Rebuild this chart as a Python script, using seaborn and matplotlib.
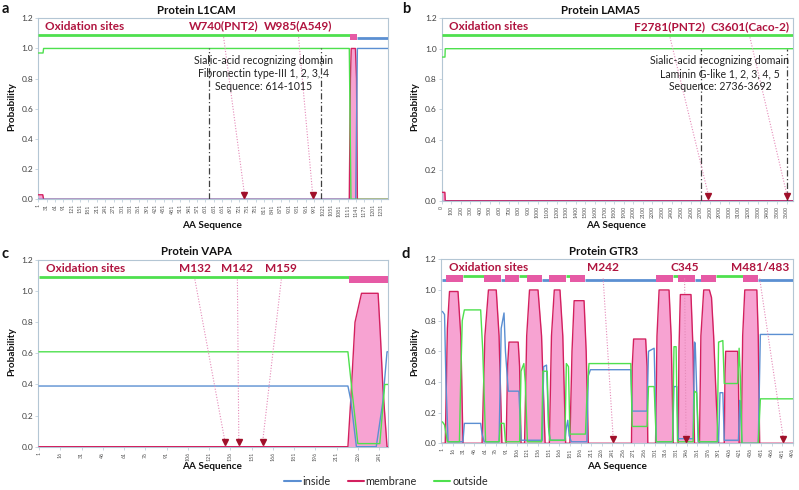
import numpy as np
import pandas as pd
import matplotlib
matplotlib.use("Agg")
import matplotlib.pyplot as plt
import seaborn as sns
from matplotlib.lines import Line2D
from matplotlib.patches import Rectangle

sns.set_theme(style="white")
plt.rcParams['font.family'] = ['Lato', 'DejaVu Sans']

# ---------------- data ----------------
# Panel a: L1CAM
l1cam_inside_x = [1, 1140, 1146, 1257]
l1cam_inside_y = [0.0, 0.0, 1.0, 1.0]
l1cam_membrane_x = [1, 17, 20, 1117, 1121, 1124, 1139, 1143, 1146, 1257]
l1cam_membrane_y = [0.03, 0.03, 0.0, 0.0, 0.8, 1.0, 1.0, 0.8, 0.0, 0.0]
l1cam_outside_x = [1, 18, 20, 1117, 1123, 1257]
l1cam_outside_y = [0.97, 0.97, 1.0, 1.0, 0.0, 0.0]
l1cam_topo_start = [1, 1120, 1144]
l1cam_topo_end = [1120, 1144, 1257]
l1cam_topo_state = ["outside", "membrane", "inside"]
l1cam_sites = [740, 985]
l1cam_site_labels = ["W740(PNT2)", "W985(A549)"]
l1cam_label_x = [666, 935]
l1cam_domain = [614, 1015]
l1cam_domain_text = ["Sialic-acid recognizing domain", "Fibronectin type-III 1, 2, 3, 4", "Sequence: 614-1015"]
l1cam_domain_text_x = 809
l1cam_ticks = list(range(1, 1232, 30))

# Panel b: LAMA5
lama5_inside_x = [0, 3695]
lama5_inside_y = [0.0, 0.0]
lama5_membrane_x = [0, 33, 37, 3695]
lama5_membrane_y = [0.055, 0.055, 0.0, 0.0]
lama5_outside_x = [0, 34, 37, 3695]
lama5_outside_y = [0.945, 0.945, 1.0, 1.0]
lama5_topo_start = [0]
lama5_topo_end = [3695]
lama5_topo_state = ["outside"]
lama5_sites = [2781, 3601]
lama5_site_labels = ["F2781(PNT2)", "C3601(Caco-2)"]
lama5_label_x = [2383, 3217]
lama5_domain = [2706, 3607]
lama5_domain_text = ["Sialic-acid recognizing domain", "Laminin G-like 1, 2, 3, 4, 5", "Sequence: 2736-3692"]
lama5_domain_text_x = 2904
lama5_ticks = list(range(0, 3601, 100))

# Panel c: VAPA
vapa_inside_x = [1, 219, 221, 225, 239, 243.5, 246.6, 249]
vapa_inside_y = [0.39, 0.39, 0.30, 0.0, 0.0, 0.28, 0.61, 0.61]
vapa_membrane_x = [1, 219, 221, 224, 228.6, 240.3, 242, 243.7, 246.6, 249]
vapa_membrane_y = [0.0, 0.0, 0.3, 0.80, 0.986, 0.986, 0.70, 0.375, 0.0, 0.0]
vapa_outside_x = [1, 219, 222, 226, 241.5, 245, 249]
vapa_outside_y = [0.61, 0.61, 0.35, 0.02, 0.02, 0.40, 0.40]
vapa_topo_start = [1, 220]
vapa_topo_end = [220, 249]
vapa_topo_state = ["outside", "membrane"]
vapa_sites = [132, 142, 159]
vapa_site_labels = ["M132", "M142", "M159"]
vapa_label_x = [111, 141, 172]
vapa_ticks = list(range(1, 242, 15))

# Panel d: GTR3
gtr3_inside_x = [1, 4, 6, 9, 30, 32, 55, 57, 60, 81, 84, 88, 90, 94, 109, 112, 142, 144, 148, 151,
                 153, 174, 176, 178, 180, 183, 205, 207, 210, 267, 269, 290, 292, 300, 303, 326, 328,
                 332, 334, 355, 357, 358, 360, 362, 391, 393, 397, 399, 419, 421, 422, 424, 447, 450, 496]
gtr3_inside_y = [0.86, 0.84, 0.40, 0.01, 0.01, 0.13, 0.13, 0.06, 0.01, 0.01, 0.75, 0.85, 0.60, 0.34,
                 0.34, 0.02, 0.02, 0.50, 0.51, 0.10, 0.02, 0.02, 0.10, 0.15, 0.05, 0.01, 0.01, 0.44,
                 0.48, 0.48, 0.21, 0.21, 0.60, 0.62, 0.01, 0.01, 0.37, 0.37, 0.03, 0.03, 0.66, 0.65,
                 0.36, 0.01, 0.01, 0.33, 0.33, 0.02, 0.02, 0.28, 0.20, 0.0, 0.0, 0.71, 0.71]
gtr3_outside_x = [1, 4, 8, 25, 27, 29, 32, 55, 58, 62, 81, 83, 88, 90, 110, 112, 116, 118, 121, 141,
                  143, 149, 151, 153, 174, 176, 179, 181, 185, 203, 205, 208, 267, 269, 290, 292, 300,
                  303, 326, 328, 331, 333, 355, 357, 360, 363, 389, 391, 397, 399, 418, 420, 422, 424,
                  447, 450, 496]
gtr3_outside_y = [0.14, 0.12, 0.01, 0.01, 0.45, 0.80, 0.87, 0.87, 0.60, 0.01, 0.01, 0.13, 0.13, 0.01,
                  0.01, 0.47, 0.52, 0.40, 0.01, 0.01, 0.47, 0.47, 0.10, 0.02, 0.02, 0.52, 0.50, 0.06,
                  0.06, 0.06, 0.30, 0.52, 0.52, 0.11, 0.11, 0.37, 0.37, 0.01, 0.01, 0.63, 0.63, 0.01,
                  0.01, 0.34, 0.33, 0.01, 0.01, 0.66, 0.67, 0.39, 0.39, 0.62, 0.40, 0.0, 0.0, 0.29, 0.29]
gtr3_membrane_x = [1, 5, 8, 11, 23, 27, 30,
                   57, 61, 66, 77, 81, 85,
                   91, 93, 95, 108, 110, 112,
                   117, 120, 124, 136, 141, 146,
                   152, 155, 159, 167, 171, 175,
                   181, 184, 187, 201, 204, 207,
                   268, 269, 271, 288, 290, 291,
                   302, 304, 307, 321, 324, 327,
                   334, 335, 337, 352, 355, 357,
                   364, 366, 370, 378, 381, 384, 388, 391,
                   399, 400, 401, 418, 419, 420,
                   423, 425, 428, 445, 447, 449, 496]
gtr3_membrane_y = [0.0, 0.0, 0.75, 0.99, 0.99, 0.70, 0.0,
                   0.0, 0.70, 1.0, 1.0, 0.70, 0.0,
                   0.0, 0.50, 0.66, 0.66, 0.50, 0.0,
                   0.0, 0.70, 1.0, 1.0, 0.70, 0.0,
                   0.0, 0.70, 1.0, 1.0, 0.70, 0.0,
                   0.0, 0.60, 0.93, 0.93, 0.60, 0.0,
                   0.0, 0.50, 0.68, 0.68, 0.50, 0.0,
                   0.0, 0.70, 1.0, 1.0, 0.70, 0.0,
                   0.0, 0.60, 0.97, 0.97, 0.60, 0.0,
                   0.0, 0.70, 1.0, 1.0, 0.95, 0.70, 0.25, 0.0,
                   0.0, 0.45, 0.60, 0.60, 0.45, 0.0,
                   0.0, 0.70, 1.0, 1.0, 0.70, 0.0, 0.0]
gtr3_topo_start = [1, 6, 30, 60, 84, 90, 109, 120, 142, 152, 175, 181, 203, 303, 327, 334, 357, 366, 388, 425, 447]
gtr3_topo_end = [6, 30, 60, 84, 90, 109, 120, 142, 152, 175, 181, 203, 303, 327, 334, 357, 366, 388, 425, 447, 496]
gtr3_topo_state = ["inside", "membrane", "outside", "membrane", "inside", "membrane", "outside",
                   "membrane", "inside", "membrane", "outside", "membrane", "inside", "membrane",
                   "outside", "membrane", "inside", "membrane", "outside", "membrane", "inside"]
gtr3_sites = [242, 345, 482]
gtr3_site_labels = ["M242", "C345", "M481/483"]
gtr3_label_x = [228, 343, 449]
gtr3_ticks = list(range(1, 497, 15))

# ---------------- styling ----------------
C_IN = "#5b8fd2"
C_MEM = "#d3205f"
C_OUT = "#4ee04e"
C_FILL = "#f7a3d2"
C_BOX = "#e65aa5"
C_RED = "#b0143f"
C_TRI = "#a0102a"
C_DOT = "#e58ab8"
C_SPINE = "#b4c6d4"

W, H = 799, 490
fig = plt.figure(figsize=(W / 100, H / 100), dpi=100)


def px_axes(left, top, right, bottom):
    return fig.add_axes([left / W, 1 - bottom / H, (right - left) / W, (bottom - top) / H])


def draw_panel(ax, ix, iy, mx, my, ox, oy, ts, te, tst, xlim, ticks, sites, labels, label_x,
               ox_x, domain=None, domain_text=None, domain_text_x=None):
    ax.fill_between(mx, my, 0, color=C_FILL, lw=0, zorder=1)
    sns.lineplot(x=mx, y=my, ax=ax, color=C_MEM, lw=1.0, zorder=3, legend=False, sort=False)
    sns.lineplot(x=ix, y=iy, ax=ax, color=C_IN, lw=1.0, zorder=4, legend=False, sort=False)
    sns.lineplot(x=ox, y=oy, ax=ax, color=C_OUT, lw=1.0, zorder=4, legend=False, sort=False)
    # topology bar
    for s, e, st in zip(ts, te, tst):
        if st == "outside":
            ax.plot([s, e], [1.09, 1.09], color=C_OUT, lw=2.0, zorder=5, solid_capstyle="butt")
        elif st == "inside":
            ax.plot([s, e], [1.068, 1.068], color=C_IN, lw=2.0, zorder=5, solid_capstyle="butt")
        else:
            ax.add_patch(Rectangle((s, 1.055), e - s, 0.04, color=C_BOX, lw=0, zorder=6))
    # domain
    if domain is not None:
        for d in domain:
            ax.plot([d, d], [0, 1.0], color="#404040", lw=0.9, ls=(0, (5, 2, 1, 2)), zorder=5)
        for k, t in enumerate(domain_text):
            ax.text(domain_text_x, 0.923 - k * 0.087, t, ha="center", va="center", fontsize=7.6,
                    color="#222222", zorder=7)
    # oxidation sites
    ax.text(ox_x, 1.148, "Oxidation sites", ha="left", va="center", fontsize=8.5,
            color=C_RED, fontweight="bold", zorder=7)
    for s, lab, lx in zip(sites, labels, label_x):
        ax.plot([lx, s], [1.075, 0.045], color=C_DOT, lw=0.8, ls=(0, (1, 1.5)), zorder=6)
        ax.plot([s], [0.028], marker="v", color=C_TRI, markersize=5, zorder=8, ls="none")
        ax.text(lx, 1.148, lab, ha="center", va="center", fontsize=8.6, color=C_RED,
                fontweight="bold", zorder=7)
    ax.set_xlim(*xlim)
    ax.set_ylim(0, 1.2)
    ax.set_xticks(ticks)
    ax.set_xticklabels([str(t) for t in ticks], rotation=90, fontsize=3.8, color="#555555")
    ax.set_yticks([0, 0.2, 0.4, 0.6, 0.8, 1.0, 1.2])
    ax.set_yticklabels(["0.0", "0.2", "0.4", "0.6", "0.8", "1.0", "1.2"], fontsize=6, color="#404040")
    ax.tick_params(axis="both", length=2, width=0.5, pad=1.5, color=C_SPINE, bottom=True, left=True)
    ax.set_xlabel("")
    ax.set_ylabel("")
    for sp in ax.spines.values():
        sp.set_color(C_SPINE)
        sp.set_linewidth(0.8)


ax_a = px_axes(38.3, 18.3, 388.3, 199.3)
draw_panel(ax_a, l1cam_inside_x, l1cam_inside_y, l1cam_membrane_x, l1cam_membrane_y,
           l1cam_outside_x, l1cam_outside_y, l1cam_topo_start, l1cam_topo_end, l1cam_topo_state,
           (1, 1257), l1cam_ticks, l1cam_sites, l1cam_site_labels, l1cam_label_x, 25,
           l1cam_domain, l1cam_domain_text, l1cam_domain_text_x)

ax_b = px_axes(441.7, 18.3, 793.3, 200.7)
draw_panel(ax_b, lama5_inside_x, lama5_inside_y, lama5_membrane_x, lama5_membrane_y,
           lama5_outside_x, lama5_outside_y, lama5_topo_start, lama5_topo_end, lama5_topo_state,
           (0, 3670), lama5_ticks, lama5_sites, lama5_site_labels, lama5_label_x, 80,
           lama5_domain, lama5_domain_text, lama5_domain_text_x)

ax_c = px_axes(38.3, 260, 388.3, 446.7)
draw_panel(ax_c, vapa_inside_x, vapa_inside_y, vapa_membrane_x, vapa_membrane_y,
           vapa_outside_x, vapa_outside_y, vapa_topo_start, vapa_topo_end, vapa_topo_state,
           (0.5, 247.5), vapa_ticks, vapa_sites, vapa_site_labels, vapa_label_x, 6)

ax_d = px_axes(441, 259.3, 793.3, 443.3)
draw_panel(ax_d, gtr3_inside_x, gtr3_inside_y, gtr3_membrane_x, gtr3_membrane_y,
           gtr3_outside_x, gtr3_outside_y, gtr3_topo_start, gtr3_topo_end, gtr3_topo_state,
           (-1, 496.5), gtr3_ticks, gtr3_sites, gtr3_site_labels, gtr3_label_x, 10)

# titles, letters, axis labels
def ftext(x, y, s, **kw):
    fig.text(x / W, 1 - y / H, s, **kw)

for (lx, ly, letter) in [(5, 9, "a"), (406, 9, "b"), (5, 254, "c"), (406, 254, "d")]:
    ftext(lx, ly, letter, fontsize=10.5, fontweight="bold", ha="center", va="center", color="#111111")
for (tx, ty, t) in [(196, 10, "Protein L1CAM"), (601, 10, "Protein LAMA5"),
                    (196, 251.7, "Protein VAPA"), (604, 251.7, "Protein GTR3")]:
    ftext(tx, ty, t, fontsize=8.2, fontweight="bold", ha="center", va="center", color="#111111")
for (yx, yy) in [(12, 107), (415, 107), (12, 352), (415, 352)]:
    ftext(yx, yy, "Probability", fontsize=7.2, fontweight="bold", rotation=90, ha="center",
          va="center", color="#111111")
for (xx, xy) in [(212, 225), (616, 225), (212, 466.7), (617, 466.7)]:
    ftext(xx, xy, "AA Sequence", fontsize=7.2, fontweight="bold", ha="center", va="center",
          color="#111111")

handles = [Line2D([], [], color=C_IN, lw=1.5), Line2D([], [], color=C_MEM, lw=1.5),
           Line2D([], [], color=C_OUT, lw=1.5)]
fig.legend(handles, ["inside", "membrane", "outside"], loc="center",
           bbox_to_anchor=(386 / W, 1 - 481.5 / H), ncol=3, frameon=False, fontsize=7.8,
           handlelength=1.5, handletextpad=0.15, columnspacing=1.6)

fig.savefig("out.png", dpi=100, facecolor="white")
